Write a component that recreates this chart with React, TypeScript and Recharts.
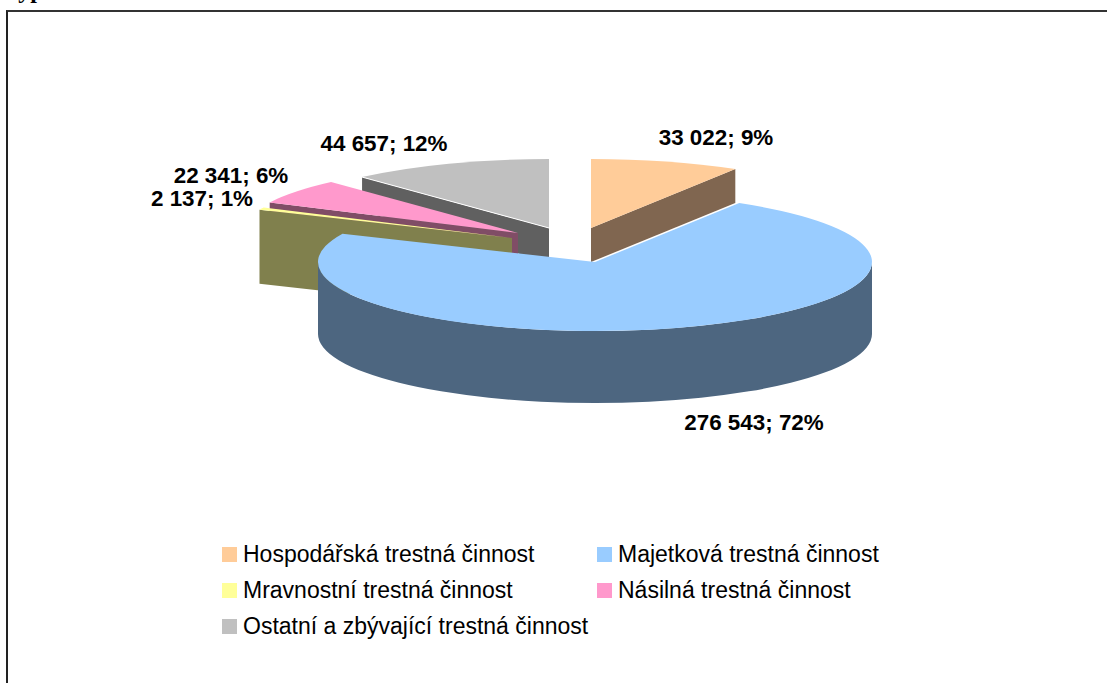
import { PieChart, Pie, Legend } from "recharts"

const categories = [
    "Hospodářská trestná činnost",
    "Majetková trestná činnost",
    "Mravnostní trestná činnost",
    "Násilná trestná činnost",
    "Ostatní a zbývající trestná činnost",
]
const values = [33022, 276543, 2137, 22341, 44657]
const percents = [9, 72, 1, 6, 12]
const topColors = ["#FFCC99", "#99CCFF", "#FFFF99", "#FF99CC", "#C0C0C0"]
const sideColors = ["#806650", "#4D6680", "#80804D", "#804D66", "#606060"]

// painter's order: back slices first, the big one last
const drawOrder = [0, 4, 3, 2, 1]

// explosion of each slice from the pie centre, and its own thickness
const offsets = [
    [-4, -34],
    [0, 0],
    [-83, -24],
    [-77, -29],
    [-46, -34],
]
const depths = [34, 72, 74, 34, 34]
const labelPos = [
    [716, 145],
    [754, 430],
    [202, 206],
    [231, 183],
    [384, 151],
]
const legendPos = [
    [222, 547],
    [597, 547],
    [222, 583],
    [597, 583],
    [222, 619],
]

const W = 1107
const H = 683
const CX = 595
const CY = 262
const RX = 277
const SQUASH = 69 / 277
const FONT = "'Liberation Sans', Arial, sans-serif"

const total = values.reduce((a, b) => a + b, 0)
const firstEnd = 90 - (360 * values[0]) / total

const data = drawOrder.map(i => ({ name: categories[i], value: values[i], fill: topColors[i] }))

function formatLabel(i: number) {
    const n = String(values[i]).replace(/\B(?=(\d{3})+$)/g, " ")
    return `${n}; ${percents[i]}%`
}

// clockwise degrees from the top, on the flattened ellipse
function pt(x: number, y: number, deg: number, ry: number) {
    const a = (deg * Math.PI) / 180
    return [x + RX * Math.sin(a), y - ry * Math.cos(a)]
}

function Slice3D(props: any) {
    const i = categories.indexOf(props.name)
    const ry = RX * SQUASH
    const x = props.cx + offsets[i][0]
    const y = props.cy + offsets[i][1]
    const d = depths[i]

    let t1 = 90 - props.endAngle
    let t2 = 90 - props.startAngle
    while (t1 < -0.001) {
        t1 += 360
        t2 += 360
    }

    const [sx, sy] = pt(x, y, t1, ry)
    const [ex, ey] = pt(x, y, t2, ry)
    const large = t2 - t1 > 180 ? 1 : 0
    const top = `M${x},${y} L${sx},${sy} A${RX},${ry} 0 ${large} 1 ${ex},${ey} Z`

    const face = (px: number, py: number) =>
        `M${x},${y} L${px},${py} L${px},${py + d} L${x},${y + d} Z`

    // rim only exists on the front half
    const rimA = Math.max(t1, 90)
    const rimB = Math.min(t2, 270)
    let rim = ""
    if (rimB > rimA) {
        const [ax, ay] = pt(x, y, rimA, ry)
        const [bx, by] = pt(x, y, rimB, ry)
        rim = `M${ax},${ay} A${RX},${ry} 0 0 1 ${bx},${by} L${bx},${by + d} A${RX},${ry} 0 0 0 ${ax},${ay + d} Z`
    }

    const side = sideColors[i]
    const startShows = t1 > 180 && t1 < 360
    const endShows = t2 > 0 && t2 < 180

    return (
        <g>
            {startShows && <path d={face(sx, sy)} fill={side} />}
            {endShows && <path d={face(ex, ey)} fill={side} />}
            {rim && <path d={rim} fill={side} />}
            <path d={top} fill={props.fill} />
            {/* the grey slice has a thin light seam along its front edge */}
            {i === 4 && <line x1={x} y1={y} x2={sx} y2={sy} stroke="#fff" strokeWidth={1} />}
        </g>
    )
}

function SliceLabel(props: any) {
    const i = categories.indexOf(props.name)
    return (
        <text
            x={labelPos[i][0]}
            y={labelPos[i][1]}
            textAnchor="middle"
            fontFamily={FONT}
            fontWeight="bold"
            fontSize={22.4}
            fill="#000"
        >
            {formatLabel(i)}
        </text>
    )
}

function LegendBox() {
    return (
        <div style={{ position: "relative", width: W, height: H }}>
            {categories.map((c, i) => (
                <div key={c}>
                    <div
                        style={{
                            position: "absolute",
                            left: legendPos[i][0],
                            top: legendPos[i][1],
                            width: 15,
                            height: 15,
                            background: topColors[i],
                        }}
                    />
                    <div
                        style={{
                            position: "absolute",
                            left: legendPos[i][0] + 21,
                            top: legendPos[i][1] - 6,
                            fontFamily: FONT,
                            fontSize: 23,
                            lineHeight: "26px",
                            color: "#000",
                            whiteSpace: "nowrap",
                        }}
                    >
                        {c}
                    </div>
                </div>
            ))}
        </div>
    )
}

export default function App() {
    return (
        <div style={{ position: "fixed", left: 0, top: 0, width: W, height: H, overflow: "hidden", background: "#fff" }}>
            <div
                style={{
                    position: "absolute",
                    left: 4,
                    top: -24,
                    fontFamily: "'Liberation Serif', serif",
                    fontWeight: "bold",
                    fontSize: 24,
                    lineHeight: "28px",
                }}
            >
                Typ
            </div>
            <div
                style={{
                    position: "absolute",
                    left: 6,
                    top: 10,
                    width: W,
                    height: H,
                    borderLeft: "2px solid #222",
                    borderTop: "2px solid #333",
                }}
            />
            <PieChart width={W} height={H} margin={{ top: 0, right: 0, bottom: 0, left: 0 }}>
                <Pie
                    data={data}
                    dataKey="value"
                    nameKey="name"
                    cx={CX}
                    cy={CY}
                    innerRadius={0}
                    outerRadius={RX}
                    startAngle={firstEnd}
                    endAngle={firstEnd + 360}
                    stroke="none"
                    shape={Slice3D}
                    label={SliceLabel}
                    labelLine={false}
                    isAnimationActive={false}
                />
                <Legend
                    content={<LegendBox />}
                    wrapperStyle={{ position: "absolute", left: 0, top: 0, width: W, height: H, pointerEvents: "none" }}
                />
            </PieChart>
        </div>
    )
}
